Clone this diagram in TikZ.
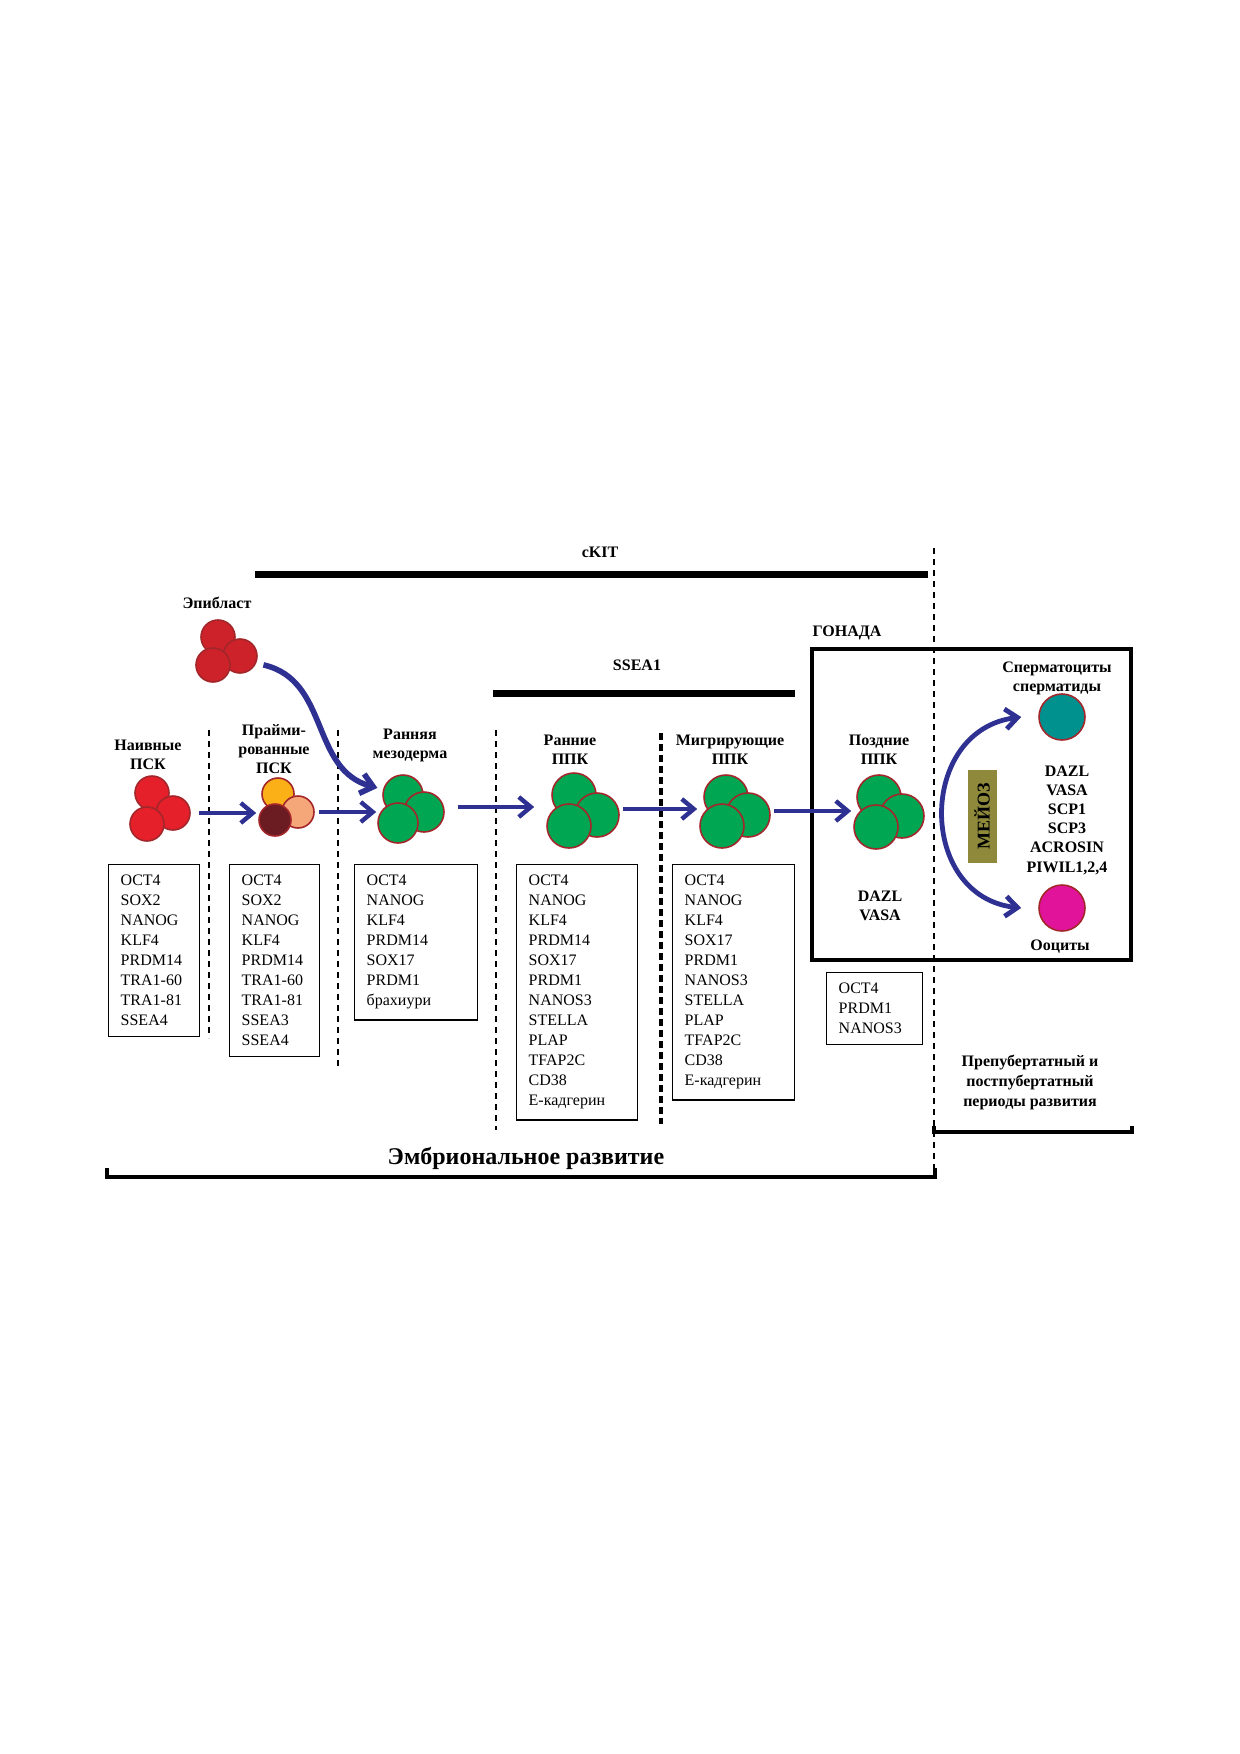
\documentclass[tikz,border=0pt]{standalone}
\usepackage{fontspec}
\setmainfont{Liberation Serif}
\usepackage{tikz}
\usetikzlibrary{arrows.meta, calc, positioning}
\definecolor{arrowblue}{HTML}{2E3192}
\definecolor{cellrim}{HTML}{A3262B}
\definecolor{naivered}{HTML}{E5202A}
\definecolor{epired}{HTML}{CD2229}
\definecolor{cellgreen}{HTML}{00A651}
\definecolor{primedyellow}{HTML}{FBB017}
\definecolor{primedpeach}{HTML}{F6A77A}
\definecolor{primeddark}{HTML}{6B1C22}
\definecolor{spermteal}{HTML}{00918E}
\definecolor{oocytepink}{HTML}{E2139B}
\definecolor{meiosisolive}{HTML}{8F8A3B}
\tikzstyle{cell} = [circle, draw=cellrim, line width=0.8pt, inner sep=0pt]
\tikzstyle{redcell} = [cell, fill=naivered, minimum size=17pt]
\tikzstyle{epicell} = [cell, fill=epired, minimum size=17pt]
\tikzstyle{primedcell} = [cell, minimum size=16pt]
\tikzstyle{mesocell} = [cell, fill=cellgreen, minimum size=20pt]
\tikzstyle{pgccell} = [cell, fill=cellgreen, minimum size=22pt]
\tikzstyle{gametecell} = [cell, minimum size=23pt]
\tikzstyle{markerbox} = [draw, line width=0.7pt, anchor=north west, align=left, inner xsep=6pt, inner ysep=5.3pt, font=\fontsize{8}{10}\selectfont]
\tikzstyle{celllabel} = [align=center, inner sep=0pt, font=\bfseries\fontsize{8}{9.5}\selectfont]
\tikzstyle{flowarrow} = [draw=arrowblue, line width=2.2pt, -{Straight Barb[length=6pt,width=10pt]}]
\tikzstyle{markerbar} = [line width=3.5pt]
\tikzstyle{divider} = [line width=1.1pt, dash pattern=on 3pt off 2.5pt]
\tikzstyle{bracketline} = [line width=2pt]

\begin{document}
\begin{tikzpicture}[x=0.5pt, y=-0.5pt]
	\useasboundingbox (0,0) rectangle (1240,1754);
	% marker bars on top
	\coordinate (ckit_start) at (255,574);
	\coordinate (ckit_end) at (928,574);
	\draw [markerbar] (ckit_start) -- (ckit_end);
	\node (ckit) [celllabel] at (600,552) {cKIT};
	\coordinate (ssea_start) at (493,693);
	\coordinate (ssea_end) at (795,693);
	\draw [markerbar] (ssea_start) -- (ssea_end);
	\node (ssea) [celllabel] at (637,665) {SSEA1};
	% stage dividers
	\draw [divider] (209,730) -- (209,1038);
	\draw [divider] (338,730) -- (338,1070);
	\draw [divider] (496,730) -- (496,1130);
	\draw [divider, line width=1.6pt, dash pattern=on 3.5pt off 2pt] (661,733) -- (661,1124);
	% gonad
	\draw [line width=2pt] (812,649) rectangle (1131,960);
	\node (gonad) [celllabel] at (847,633) {ГОНАДА};
	\draw [divider] (934,548) -- (934,1177);
	% epiblast
	\node (epiblast) [celllabel] at (217,603) {Эпибласт};
	\node (epi_t) [epicell] at (218,637) {};
	\node (epi_r) [epicell] at (240,656) {};
	\node (epi_bl) [epicell] at (213,665) {};
	% naive
	\node (naive) [celllabel] at (148,755) {Наивные\\ПСК};
	\node (naive_t) [redcell] at (152,793) {};
	\node (naive_r) [redcell] at (173,813) {};
	\node (naive_bl) [redcell] at (147,824) {};
	% primed
	\node (primed) [celllabel] at (274,749) {Прайми-\\рованные\\ПСК};
	\node (primed_t) [primedcell, fill=primedyellow] at (278,794) {};
	\node (primed_r) [primedcell, fill=primedpeach] at (298,812) {};
	\node (primed_bl) [primedcell, fill=primeddark] at (275,820) {};
	% early mesoderm
	\node (meso) [celllabel] at (410,745) {Ранняя\\мезодерма};
	\node (meso_t) [mesocell] at (403,795) {};
	\node (meso_r) [mesocell] at (424,812) {};
	\node (meso_bl) [mesocell] at (398,823) {};
	% early PGC
	\node (early) [celllabel] at (570,750) {Ранние\\ППК};
	\node (early_t) [pgccell] at (574,795) {};
	\node (early_r) [pgccell] at (597,815) {};
	\node (early_bl) [pgccell] at (569,826) {};
	% migrating PGC
	\node (migr) [celllabel] at (730,750) {Мигрирующие\\ППК};
	\node (migr_t) [pgccell] at (726,797) {};
	\node (migr_r) [pgccell] at (748,815) {};
	\node (migr_bl) [pgccell] at (722,826) {};
	% late PGC
	\node (late) [celllabel] at (879,750) {Поздние\\ППК};
	\node (late_t) [pgccell] at (879,797) {};
	\node (late_r) [pgccell] at (902,816) {};
	\node (late_bl) [pgccell] at (876,827) {};
	\node (late_markers) [celllabel] at (880,906) {DAZL\\VASA};
	% gametes
	\node (sperm_label) [celllabel] at (1057,678) {Сперматоциты\\сперматиды};
	\node (sperm) [gametecell, fill=spermteal] at (1062,717) {};
	\node (gamete_markers) [celllabel, font=\bfseries\fontsize{8}{9.6}\selectfont] at (1067,820) {DAZL\\VASA\\SCP1\\SCP3\\ACROSIN\\PIWIL1,2,4};
	\node (oocyte) [gametecell, fill=oocytepink] at (1062,908) {};
	\node (oocyte_label) [celllabel] at (1060,947) {Ооциты};
	\node (meiosis) [celllabel, fill=meiosisolive, rotate=90, minimum width=46.5pt, minimum height=14.5pt, font=\bfseries\fontsize{9}{10}\selectfont] at (982,816) {МЕЙОЗ};
	% arrows
	\draw [flowarrow] ([xshift=4pt]naive_r.east) -- ([xshift=-1pt]primed_bl.west |- naive_r.east);
	\draw [flowarrow] ([xshift=2pt]primed_r.east) -- ([xshift=-0.5pt]meso_bl.west |- primed_r.east);
	\draw [flowarrow] ([xshift=6.5pt,yshift=2.5pt]meso_r.east) -- ([xshift=-6pt,yshift=2.5pt]early_bl.west |- meso_r.east);
	\draw [flowarrow] ([xshift=1.5pt,yshift=3pt]early_r.east) -- ([xshift=-1pt,yshift=3pt]migr_bl.west |- early_r.east);
	\draw [flowarrow] ([xshift=1.5pt,yshift=2pt]migr_r.east) -- ([xshift=-1pt,yshift=2pt]late_bl.west |- migr_r.east);
	\draw [flowarrow, line width=2.8pt] ([xshift=4pt]epi_r.-30) .. controls (330,680) and (310,770) .. ([xshift=-3pt]meso_t.160);
	\draw [flowarrow, line width=2.4pt, {Straight Barb[length=6pt,width=10pt]}-{Straight Barb[length=6pt,width=10pt]}] ([xshift=-8.5pt]sperm.west) .. controls (917,730) and (917,897) .. ([xshift=-8.5pt]oocyte.west);
	% marker boxes
	\node (naive_box) [markerbox, text width=33.5pt] at (108,864) {OCT4\\SOX2\\NANOG\\KLF4\\PRDM14\\TRA1-60\\TRA1-81\\SSEA4};
	\node (primed_box) [markerbox, text width=33pt] at (229,864) {OCT4\\SOX2\\NANOG\\KLF4\\PRDM14\\TRA1-60\\TRA1-81\\SSEA3\\SSEA4};
	\node (meso_box) [markerbox, text width=49.5pt] at (354,864) {OCT4\\NANOG\\KLF4\\PRDM14\\SOX17\\PRDM1\\брахиури};
	\node (early_box) [markerbox, text width=48.5pt] at (516,864) {OCT4\\NANOG\\KLF4\\PRDM14\\SOX17\\PRDM1\\NANOS3\\STELLA\\PLAP\\TFAP2C\\CD38\\Е-кадгерин};
	\node (migr_box) [markerbox, text width=49pt] at (672,864) {OCT4\\NANOG\\KLF4\\SOX17\\PRDM1\\NANOS3\\STELLA\\PLAP\\TFAP2C\\CD38\\Е-кадгерин};
	\node (late_box) [markerbox, text width=36pt] at (826,972) {OCT4\\PRDM1\\NANOS3};
	% periods
	\node (postnatal) [celllabel, font=\bfseries\fontsize{8}{10}\selectfont] at (1030,1082) {Препубертатный и\\постпубертатный\\периоды развития};
	\draw [bracketline] (934,1126) |- (1132,1132) -- (1132,1126);
	\node (embryonic) [celllabel, font=\bfseries\fontsize{12}{14}\selectfont] at (526,1158) {Эмбриональное развитие};
	\draw [bracketline] (107,1168) |- (935,1177) -- (935,1168);
\end{tikzpicture}
\end{document}
